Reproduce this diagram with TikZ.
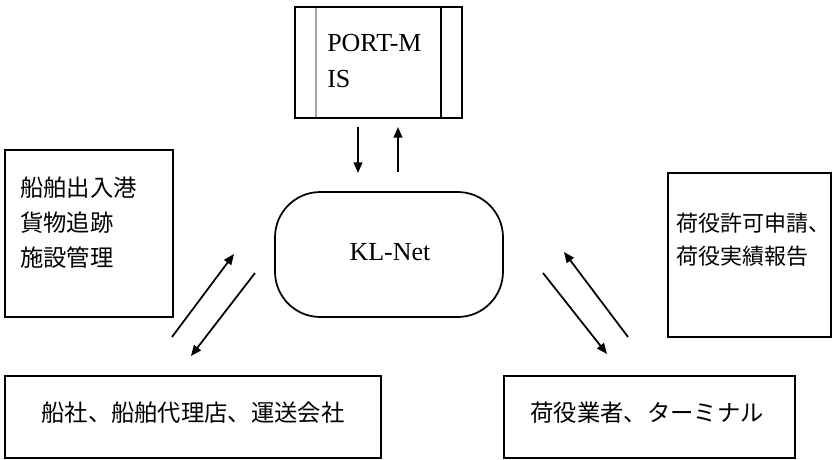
\documentclass[tikz,border=0pt]{standalone}
\usepackage{fontspec}
\setmainfont{Liberation Serif}
\newfontfamily\jp{Noto Sans CJK JP}
\usetikzlibrary{arrows.meta}
\begin{document}
\begin{tikzpicture}[x=0.75pt,y=-0.75pt,
  boxline/.style={draw=black,line width=1.3pt},
  jtext/.style={font=\jp\fontsize{17.5}{20}\selectfont,anchor=west,inner sep=0pt},
  ltext/.style={font=\fontsize{19.5}{22}\selectfont,anchor=west,inner sep=0pt},
  flow/.style={line width=1.3pt,-{Triangle[length=8pt,width=6.5pt]}}]
\useasboundingbox (0,0) rectangle (833,460);
% PORT-MIS
\draw[boxline] (295,7) rectangle (462,118);
\draw[gray!70,line width=1.8pt] (316,8) -- (316,117);
\draw[line width=1.3pt] (441,7) -- (441,118);
\node[ltext] (pmt1) at (327,43) {PORT-M};
\node[ltext] (pmt2) at (327,79) {IS};
% KL-Net
\draw[boxline,rounded corners=34] (275,192) rectangle (503,317);
\node[ltext,anchor=center] (kl) at (390,252) {KL-Net};
% left info box
\draw[boxline] (5,150) rectangle (173,317);
\node[jtext] (l1) at (20,188) {船舶出入港};
\node[jtext] (l2) at (20,223) {貨物追跡};
\node[jtext] (l3) at (20,258) {施設管理};
% right info box
\draw[boxline] (668,173) rectangle (831,337);
\node[jtext,font=\jp\fontsize{16.5}{20}\selectfont] (r1) at (676,223) {荷役許可申請、};
\node[jtext,font=\jp\fontsize{16.5}{20}\selectfont] (r2) at (676,256) {荷役実績報告};
% bottom boxes
\draw[boxline] (5,376) rectangle (381,458);
\node[jtext,anchor=center] (b1) at (193,413) {船社、船舶代理店、運送会社};
\draw[boxline] (504,376) rectangle (795,458);
\node[jtext,anchor=center] (b2) at (647,413) {荷役業者、ターミナル};
% arrow endpoints
\coordinate (a1s) at (358,127); \coordinate (a1e) at (358,173);
\coordinate (a2s) at (398,172); \coordinate (a2e) at (398,127);
\coordinate (a3s) at (172,337); \coordinate (a3e) at (234,254);
\coordinate (a4s) at (255,273); \coordinate (a4e) at (191,356);
\coordinate (a5s) at (543,273); \coordinate (a5e) at (607,354);
\coordinate (a6s) at (628,337); \coordinate (a6e) at (564,252);
\draw[flow] (a1s) -- (a1e);
\draw[flow] (a2s) -- (a2e);
\draw[flow] (a3s) -- (a3e);
\draw[flow] (a4s) -- (a4e);
\draw[flow] (a5s) -- (a5e);
\draw[flow] (a6s) -- (a6e);
\end{tikzpicture}
\end{document}
